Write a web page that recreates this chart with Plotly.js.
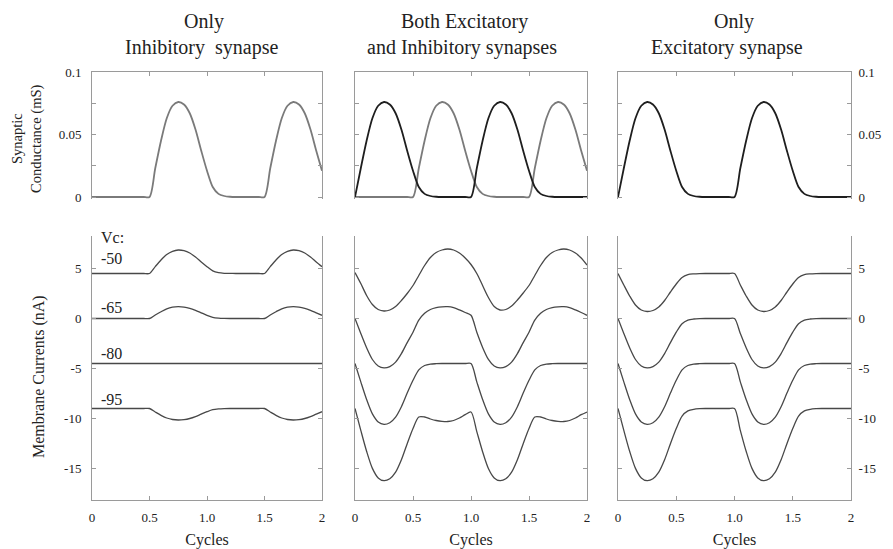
<!DOCTYPE html>
<html>
<head>
<meta charset="utf-8">
<script src="https://cdn.plot.ly/plotly-3.0.1.min.js"></script>
<style>html,body{margin:0;padding:0;background:#fff;}#chart{width:893px;height:549px;}</style>
</head>
<body>
<div id="chart"></div>
<script>
// ---- data ----
const cycles = [0,0.05,0.1,0.15,0.2,0.25,0.3,0.35,0.4,0.45,0.5,0.55,0.6,0.65,0.7,0.75,0.8,0.85,0.9,0.95,1,1.05,1.1,1.15,1.2,1.25,1.3,1.35,1.4,1.45,1.5,1.55,1.6,1.65,1.7,1.75,1.8,1.85,1.9,1.95,2];

// synaptic conductance (mS)
const gExc = [0,0.023,0.045,0.063,0.073,0.076,0.074,0.067,0.054,0.037,0.021,0.008,0.0025,0.0008,0.0002,0,0,0,0,0,
              0,0.023,0.045,0.063,0.073,0.076,0.074,0.067,0.054,0.037,0.021,0.008,0.0025,0.0008,0.0002,0,0,0,0,0,
              0];
const gInh = [0,0,0,0,0,0,0,0,0,0,
              0,0.023,0.045,0.063,0.073,0.076,0.074,0.067,0.054,0.037,0.021,0.008,0.0025,0.0008,0.0002,0,0,0,0,0,
              0,0.023,0.045,0.063,0.073,0.076,0.074,0.067,0.054,0.037,0.021];

// membrane currents (nA), only inhibitory synapse
const inh_m50 = [4.5,4.5,4.5,4.5,4.5,4.5,4.5,4.5,4.5,4.5,
                 4.5,5.19,5.85,6.4,6.72,6.85,6.78,6.55,6.15,5.65,5.18,4.76,4.58,4.52,4.51,4.5,4.5,4.5,4.5,4.5,
                 4.5,5.19,5.85,6.4,6.72,6.85,6.78,6.55,6.15,5.65,5.18];
const inh_m65 = [0,0,0,0,0,0,0,0,0,0,
                 0,0.35,0.68,0.97,1.13,1.18,1.14,1.02,0.82,0.57,0.32,0.12,0.04,0.01,0,0,0,0,0,0,
                 0,0.35,0.68,0.97,1.13,1.18,1.14,1.02,0.82,0.57,0.32];
const inh_m80 = [-4.5,-4.5,-4.5,-4.5,-4.5,-4.5,-4.5,-4.5,-4.5,-4.5,-4.5,-4.5,-4.5,-4.5,-4.5,-4.5,-4.5,-4.5,-4.5,-4.5,
                 -4.5,-4.5,-4.5,-4.5,-4.5,-4.5,-4.5,-4.5,-4.5,-4.5,-4.5,-4.5,-4.5,-4.5,-4.5,-4.5,-4.5,-4.5,-4.5,-4.5,-4.5];
const inh_m95 = [-9,-9,-9,-9,-9,-9,-9,-9,-9,-9,
                 -9,-9.35,-9.68,-9.95,-10.1,-10.15,-10.11,-10.0,-9.81,-9.56,-9.32,-9.12,-9.04,-9.01,-9,-9,-9,-9,-9,-9,
                 -9,-9.35,-9.68,-9.95,-10.1,-10.15,-10.11,-10.0,-9.81,-9.56,-9.32];

// both excitatory and inhibitory synapses
const both_m50 = [4.6,3.5,2.3,1.4,0.9,0.75,0.85,1.2,1.8,2.5,
                  3.3,4.3,5.3,6.1,6.6,6.85,6.95,6.85,6.55,6.05,
                  5.4,4.5,3.3,2.1,1.2,0.85,0.9,1.25,1.85,2.55,
                  3.3,4.3,5.3,6.1,6.6,6.85,6.95,6.85,6.55,6.05,
                  5.35];
const both_m65 = [0,-1.5,-2.93,-4.1,-4.75,-4.94,-4.81,-4.36,-3.51,-2.41,
                  -1.37,-0.17,0.52,0.9,1.09,1.17,1.18,1.08,0.86,0.6,
                  0.32,-1.38,-2.89,-4.09,-4.75,-4.94,-4.81,-4.36,-3.51,-2.41,
                  -1.37,-0.17,0.52,0.9,1.09,1.17,1.18,1.08,0.86,0.6,
                  0.32];
const both_m80 = [-4.5,-6.34,-8.1,-9.54,-10.34,-10.58,-10.42,-9.86,-8.82,-7.46,
                  -6.18,-5.14,-4.7,-4.56,-4.52,-4.5,-4.5,-4.5,-4.5,-4.5,
                  -4.5,-6.34,-8.1,-9.54,-10.34,-10.58,-10.42,-9.86,-8.82,-7.46,
                  -6.18,-5.14,-4.7,-4.56,-4.52,-4.5,-4.5,-4.5,-4.5,-4.5,
                  -4.5];
const both_m95 = [-9,-11.19,-13.28,-14.99,-15.94,-16.22,-16.03,-15.37,-14.13,-12.52,
                  -11.0,-9.85,-9.85,-10.05,-10.2,-10.28,-10.3,-10.2,-9.95,-9.62,
                  -9.35,-11.31,-13.32,-15.0,-15.94,-16.22,-16.03,-15.37,-14.13,-12.52,
                  -11.0,-9.85,-9.85,-10.05,-10.2,-10.28,-10.3,-10.2,-9.95,-9.62,
                  -9.35];

// only excitatory synapse
const exc_m50 = [4.5,3.35,2.25,1.35,0.85,0.7,0.8,1.15,1.8,2.65,3.45,4.1,4.38,4.46,4.49,4.5,4.5,4.5,4.5,4.5,
                 4.5,3.35,2.25,1.35,0.85,0.7,0.8,1.15,1.8,2.65,3.45,4.1,4.38,4.46,4.49,4.5,4.5,4.5,4.5,4.5,
                 4.5];
const exc_m65 = [0,-1.5,-2.93,-4.1,-4.75,-4.94,-4.81,-4.36,-3.51,-2.41,-1.37,-0.52,-0.16,-0.05,-0.01,0,0,0,0,0,
                 0,-1.5,-2.93,-4.1,-4.75,-4.94,-4.81,-4.36,-3.51,-2.41,-1.37,-0.52,-0.16,-0.05,-0.01,0,0,0,0,0,
                 0];
const exc_m80 = [-4.5,-6.34,-8.1,-9.54,-10.34,-10.58,-10.42,-9.86,-8.82,-7.46,-6.18,-5.14,-4.7,-4.56,-4.52,-4.5,-4.5,-4.5,-4.5,-4.5,
                 -4.5,-6.34,-8.1,-9.54,-10.34,-10.58,-10.42,-9.86,-8.82,-7.46,-6.18,-5.14,-4.7,-4.56,-4.52,-4.5,-4.5,-4.5,-4.5,-4.5,
                 -4.5];
const exc_m95 = [-9,-11.19,-13.28,-14.99,-15.94,-16.22,-16.03,-15.37,-14.13,-12.52,-11.0,-9.76,-9.24,-9.08,-9.02,-9,-9,-9,-9,-9,
                 -9,-11.19,-13.28,-14.99,-15.94,-16.22,-16.03,-15.37,-14.13,-12.52,-11.0,-9.76,-9.24,-9.08,-9.02,-9,-9,-9,-9,-9,
                 -9];

const gTickVals = [0,0.025,0.05,0.075,0.1];
const gTickText = ['0','','0.05','','0.1'];
const iTickVals = [-15,-10,-5,0,5];
const iTickText = ['-15','-10','-5','0','5'];
const xTickVals = [0,0.5,1,1.5,2];
const xTickText = ['0','0.5','1.0','1.5','2'];
const vcLabels = ['-50','-65','-80','-95'];

// ---- styling ----
const FONT = '"Liberation Serif", "Times New Roman", "DejaVu Serif", serif';
const AX = '#9a9a9a';
const INH = '#7a7a7a';
const EXC = '#1e1e1e';
const CUR = '#484848';
const W = 893, H = 549;
const px = v => v / W;
const py = v => 1 - v / H;

const colX = [[px(92), px(322)], [px(355), px(587)], [px(618), px(851)]];
const topY = [py(199), py(72)];
const botY = [py(500), py(235.5)];

function line(x, y, xa, ya, color, width) {
  return {x: x, y: y, xaxis: xa, yaxis: ya, type: 'scatter', mode: 'lines',
          line: {color: color, width: width, shape: 'spline', smoothing: 0.8},
          hoverinfo: 'skip'};
}

const traces = [
  line(cycles, gInh, 'x', 'y', INH, 1.8),
  line(cycles, gInh, 'x2', 'y2', INH, 1.8),
  line(cycles, gExc, 'x2', 'y2', EXC, 1.8),
  line(cycles, gExc, 'x3', 'y3', EXC, 1.8),
  line(cycles, inh_m50, 'x4', 'y4', CUR, 1.3),
  line(cycles, inh_m65, 'x4', 'y4', CUR, 1.3),
  line(cycles, inh_m80, 'x4', 'y4', CUR, 1.3),
  line(cycles, inh_m95, 'x4', 'y4', CUR, 1.3),
  line(cycles, both_m50, 'x5', 'y5', CUR, 1.3),
  line(cycles, both_m65, 'x5', 'y5', CUR, 1.3),
  line(cycles, both_m80, 'x5', 'y5', CUR, 1.3),
  line(cycles, both_m95, 'x5', 'y5', CUR, 1.3),
  line(cycles, exc_m50, 'x6', 'y6', CUR, 1.3),
  line(cycles, exc_m65, 'x6', 'y6', CUR, 1.3),
  line(cycles, exc_m80, 'x6', 'y6', CUR, 1.3),
  line(cycles, exc_m95, 'x6', 'y6', CUR, 1.3)
];

const tickFont = {family: FONT, size: 13, color: '#222'};

function xTop(col, anchor) {
  return {domain: colX[col], anchor: anchor, side: 'top', range: [0, 2],
          showline: true, linecolor: AX, linewidth: 1, ticks: 'inside', ticklen: 4, tickcolor: AX,
          tickvals: [0.5, 1, 1.5], showticklabels: false, showgrid: false, zeroline: false, fixedrange: true};
}
function yTop(col, anchor, side, labels) {
  return {domain: topY, anchor: anchor, side: side, range: [-0.0016, 0.1],
          showline: true, mirror: 'ticks', linecolor: AX, linewidth: 1, ticks: 'inside', ticklen: 4, tickcolor: AX,
          tickvals: gTickVals, ticktext: gTickText, showticklabels: labels, tickfont: tickFont,
          ticklabelstandoff: side === 'left' ? 7 : 4,
          showgrid: false, zeroline: false, fixedrange: true};
}
function xBot(col, anchor) {
  return {domain: colX[col], anchor: anchor, side: 'bottom', range: [0, 2],
          showline: true, linecolor: AX, linewidth: 1, ticks: 'inside', ticklen: 4, tickcolor: AX,
          tickvals: xTickVals, ticktext: xTickText, tickfont: tickFont, ticklabelstandoff: 5,
          title: {text: 'Cycles', font: {family: FONT, size: 16, color: '#222'}, standoff: 12},
          showgrid: false, zeroline: false, fixedrange: true};
}
function yBot(col, anchor, side, labels) {
  return {domain: botY, anchor: anchor, side: side, range: [-18.15, 8.3],
          showline: true, mirror: 'ticks', linecolor: AX, linewidth: 1, ticks: 'inside', ticklen: 4, tickcolor: AX,
          tickvals: iTickVals, ticktext: iTickText, showticklabels: labels, tickfont: tickFont,
          ticklabelstandoff: side === 'left' ? 7 : 4,
          showgrid: false, zeroline: false, fixedrange: true};
}

const titleFont = {family: FONT, size: 20, color: '#222'};
function ann(text, x, y, opts) {
  return Object.assign({text: text, xref: 'paper', yref: 'paper', x: px(x), y: py(y),
          xanchor: 'center', yanchor: 'middle', showarrow: false, font: titleFont}, opts || {});
}
const vcFont = {family: FONT, size: 16, color: '#222'};
const vcY = [6.0, 1.1, -3.5, -8.15];

const annotations = [
  ann('Only', 204, 21),
  ann('Inhibitory&nbsp;&nbsp;synapse', 201, 48),
  ann('Both Excitatory', 464, 22),
  ann('and Inhibitory synapses', 462, 48),
  ann('Only', 734, 22),
  ann('Excitatory synapse', 727, 48),
  ann('Synaptic', 17, 139, {textangle: -90, font: {family: FONT, size: 14.5, color: '#222'}}),
  ann('Conductance (mS)', 36, 139, {textangle: -90, font: {family: FONT, size: 14.5, color: '#222'}}),
  ann('Membrane Currents (nA)', 39, 377, {textangle: -90, font: {family: FONT, size: 16, color: '#222'}}),
  {text: 'Vc:', xref: 'x4', yref: 'y4', x: 0.06, y: 8.1, xanchor: 'left', yanchor: 'middle', showarrow: false, font: vcFont}
];
vcLabels.forEach((t, i) => annotations.push({text: t, xref: 'x4', yref: 'y4', x: 0.06, y: vcY[i],
  xanchor: 'left', yanchor: 'middle', showarrow: false, font: vcFont}));

const layout = {
  width: W, height: H, margin: {l: 0, r: 0, t: 0, b: 0},
  paper_bgcolor: '#fff', plot_bgcolor: '#fff', showlegend: false,
  font: {family: FONT, size: 12, color: '#222'},
  xaxis: xTop(0, 'y'), yaxis: yTop(0, 'x', 'left', true),
  xaxis2: xTop(1, 'y2'), yaxis2: yTop(1, 'x2', 'left', false),
  xaxis3: xTop(2, 'y3'), yaxis3: yTop(2, 'x3', 'right', true),
  xaxis4: xBot(0, 'y4'), yaxis4: yBot(0, 'x4', 'left', true),
  xaxis5: xBot(1, 'y5'), yaxis5: yBot(1, 'x5', 'left', false),
  xaxis6: xBot(2, 'y6'), yaxis6: yBot(2, 'x6', 'right', true),
  annotations: annotations
};

Plotly.newPlot('chart', traces, layout, {displayModeBar: false, staticPlot: true});
</script>
</body>
</html>
